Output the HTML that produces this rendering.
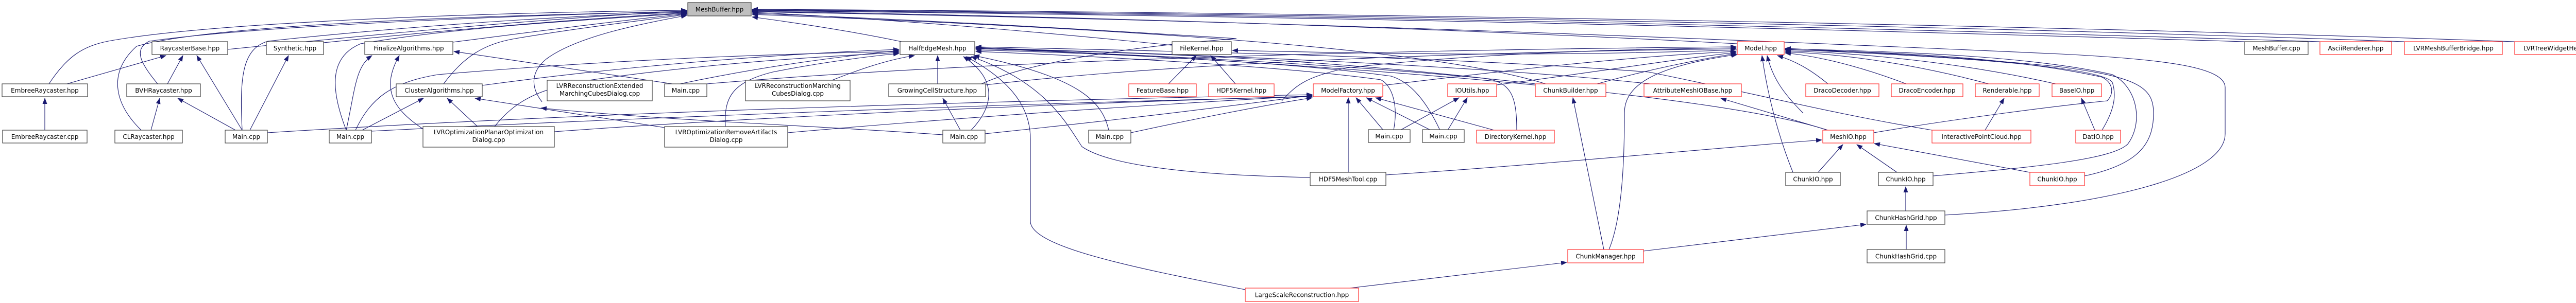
<!DOCTYPE html>
<html><head><meta charset="utf-8"><style>
html,body{margin:0;padding:0;background:#fff;}
svg{display:block;}
text{font-family:"DejaVu Sans","Liberation Sans",sans-serif;font-size:12px;fill:#000;text-anchor:middle;font-stretch:95%;}
.b{fill:#fff;stroke:#404040;stroke-width:1.2;}
.r{fill:#fff;stroke:#ff3030;stroke-width:1.2;}
.g{fill:#bfbfbf;stroke:#404040;stroke-width:1.2;}
path{fill:none;stroke:#191970;stroke-width:1.1;marker-end:url(#a);}
</style></head><body>
<svg width="5075" height="589" viewBox="0 0 5075 589" xmlns="http://www.w3.org/2000/svg">
<defs><marker id="a" markerWidth="12" markerHeight="9" refX="11" refY="4.5" orient="auto" markerUnits="userSpaceOnUse"><polygon points="0,0 12,4.5 0,9" fill="#191970"/></marker></defs>

<path d="M95,163 C130,110 160,90 210,80 C400,45 900,25 1333,20"/>
<path d="M442,96 C700,70 1000,40 1333,21"/>
<path d="M306,163 C270,120 260,95 290,80 C500,50 1000,30 1333,22"/>
<path d="M274,253 C220,200 210,140 265,90 C400,50 900,30 1333,23"/>
<path d="M470,253 C465,150 470,95 520,80 C800,50 1100,30 1333,24"/>
<path d="M628,83 C900,55 1150,35 1333,25"/>
<path d="M672,253 C640,170 640,110 700,85 C900,50 1200,35 1333,26"/>
<path d="M879,82 C1050,60 1200,40 1333,27"/>
<path d="M861,163 C900,110 940,85 1000,75 C1150,50 1250,40 1333,28"/>
<path d="M1052,198 C1030,170 1030,140 1060,115 C1120,70 1250,45 1333,30"/>
<path d="M1750,81 C1650,60 1550,45 1460,33"/>
<path d="M2275,88 C2000,60 1700,35 1460,24"/>
<path d="M3372,85 C2700,50 2000,30 1460,22"/>
<path d="M4357,81 C3500,55 2500,30 1460,21"/>
<path d="M4503,81 C3500,50 2500,28 1460,20"/>
<path d="M4667,81 C3800,50 2600,27 1460,19"/>
<path d="M4881,81 C4000,50 2700,25 1460,18"/>
<path d="M3775,418 C4100,400 4319,340 4319,260 L4319,170 C4319,130 4200,115 4000,105 C3000,60 2200,35 1460,23"/>
<path d="M1905,163 C2000,120 2200,90 2400,75 C2000,50 1700,35 1460,26"/>
<path d="M3000,163 C2800,100 2300,60 1460,28"/>

<path d="M936,166 C1200,130 1500,105 1745,96"/>
<path d="M1320,163 C1500,125 1650,108 1745,98"/>
<path d="M1615,156 C1680,130 1730,115 1775,108"/>
<path d="M690,253 C720,190 760,160 850,145 C1200,115 1500,105 1745,100"/>
<path d="M960,246 C1000,195 1050,170 1150,155 C1400,120 1600,110 1745,102"/>
<path d="M1408,246 C1405,190 1420,160 1500,140 C1600,120 1700,108 1745,104"/>
<path d="M1820,163 L1820,108"/>
<path d="M1885,253 C1935,200 1930,150 1870,110"/>
<path d="M2417,563 C2200,520 2000,480 2000,430 L2000,270 C2000,200 1950,150 1875,110"/>
<path d="M2543,345 C2300,340 2150,320 2100,285 C2070,240 2030,160 1885,110"/>
<path d="M2152,253 C2140,200 2100,150 1890,108"/>
<path d="M2705,253 C2715,200 2700,165 2680,155 C2500,130 2150,110 1894,100"/>
<path d="M2795,253 C2770,200 2740,160 2700,148 C2500,120 2150,104 1894,97"/>
<path d="M2944,253 C2944,180 2930,160 2880,152 C2500,110 2150,100 1894,95"/>
<path d="M2980,163 C2700,130 2300,110 1894,94"/>
<path d="M3203,163 C2900,130 2400,108 1894,93"/>
<path d="M3547,253 C3450,220 3100,150 1894,92"/>
<path d="M3750,253 C3550,220 3400,180 3200,140 C2800,110 2300,100 1894,91"/>

<path d="M2684,166 C2900,140 3150,110 3370,100"/>
<path d="M2905,165 C3100,140 3250,115 3370,102"/>
<path d="M3100,163 C3200,135 3300,115 3370,104"/>
<path d="M3123,485 C3150,420 3153,300 3153,220 C3153,170 3200,130 3372,106"/>
<path d="M2488,196 C2520,160 2540,150 2613,132 C2900,100 3200,95 3370,93"/>
<path d="M1913,165 C2300,120 2900,100 3370,95"/>
<path d="M1372,163 C2000,110 2900,95 3370,91"/>
<path d="M3480,335 C3450,260 3430,180 3420,108"/>
<path d="M3500,220 C3460,180 3440,150 3430,108"/>
<path d="M3548,163 C3520,140 3490,120 3450,108"/>
<path d="M3700,163 C3600,125 3520,108 3465,103"/>
<path d="M3860,163 C3700,120 3560,104 3465,101"/>
<path d="M3990,163 C3800,120 3600,102 3465,99"/>
<path d="M3637,258 C3800,230 4000,205 4090,196 C4105,180 4100,160 4080,150 C3900,110 3650,100 3465,97"/>
<path d="M4080,253 C4100,220 4110,190 4100,160 C4080,130 3800,110 3465,96"/>
<path d="M3752,342 C3950,325 4100,310 4130,280 C4160,240 4150,170 4100,145 C3950,110 3700,100 3465,95"/>
<path d="M4046,342 C4150,320 4180,280 4180,220 C4180,170 4150,150 4000,130 C3800,110 3600,100 3465,94"/>

<path d="M2195,258 C2300,235 2450,205 2547,190"/>
<path d="M721,255 C1200,230 2000,200 2547,188"/>
<path d="M1076,256 C1500,225 2100,200 2547,187"/>
<path d="M1529,258 C1900,225 2300,200 2547,186"/>
<path d="M1912,260 C2200,230 2400,205 2547,185"/>
<path d="M519,258 C1200,215 2000,195 2547,184"/>
<path d="M2617,335 L2617,190"/>
<path d="M2685,253 L2632,190"/>
<path d="M2777,253 L2652,190"/>
<path d="M2900,253 L2670,190"/>
<path d="M2718,253 L2832,190"/>
<path d="M2810,253 L2848,190"/>
<path d="M2268,163 L2322,108"/>
<path d="M2398,163 L2350,108"/>
<path d="M3372,97 C3000,110 2700,105 2392,98"/>
<path d="M3113,485 L3053,190"/>
<path d="M2620,560 C2800,538 2950,520 3041,510"/>
<path d="M3190,488 C3350,470 3500,450 3622,436"/>
<path d="M3700,485 L3700,438"/>
<path d="M3699,410 L3699,363"/>
<path d="M2690,340 C3000,320 3300,290 3536,272"/>
<path d="M3529,335 L3577,281"/>
<path d="M3682,335 L3604,281"/>
<path d="M3940,335 L3638,279"/>
<path d="M3548,253 L3340,191"/>
<path d="M3853,253 L3890,191"/>
<path d="M4066,253 L4040,191"/>
<path d="M1305,163 L881,100"/>
<path d="M820,250 C760,210 740,170 775,108"/>
<path d="M672,253 C690,170 690,130 722,108"/>
<path d="M927,246 L868,191"/>
<path d="M703,253 L822,191"/>
<path d="M1290,248 L922,191"/>
<path d="M1830,262 C1600,245 1300,235 1050,210"/>
<path d="M130,163 L322,108"/>
<path d="M325,163 L355,108"/>
<path d="M470,253 L382,108"/>
<path d="M87,253 L87,191"/>
<path d="M293,253 L310,191"/>
<path d="M457,253 L345,191"/>
<path d="M485,253 L560,108"/>
<path d="M1864,253 L1830,191"/>

<rect class="g" x="1335" y="5" width="123" height="26"/><text x="1396.5" y="22.5">MeshBuffer.hpp</text>

<rect class="b" x="295" y="81" width="147" height="25"/><text x="368.5" y="98">RaycasterBase.hpp</text>
<rect class="b" x="517" y="81" width="111" height="25"/><text x="572.5" y="98">Synthetic.hpp</text>
<rect class="b" x="708" y="81" width="171" height="25"/><text x="793.5" y="98">FinalizeAlgorithms.hpp</text>
<rect class="b" x="1747" y="81" width="145" height="25"/><text x="1819.5" y="98">HalfEdgeMesh.hpp</text>
<rect class="b" x="2275" y="81" width="115" height="25"/><text x="2332.5" y="98">FileKernel.hpp</text>
<rect class="r" x="3372" y="81" width="91" height="25"/><text x="3417.5" y="98">Model.hpp</text>
<rect class="b" x="4357" y="81" width="123" height="25"/><text x="4418.5" y="98">MeshBuffer.cpp</text>
<rect class="r" x="4503" y="81" width="139" height="25"/><text x="4572.5" y="98">AsciiRenderer.hpp</text>
<rect class="r" x="4667" y="81" width="190" height="25"/><text x="4762" y="98">LVRMeshBufferBridge.hpp</text>
<rect class="r" x="4881" y="81" width="188" height="25"/><text x="4975" y="98">LVRTreeWidgetHelper.hpp</text>

<rect class="b" x="4" y="163" width="166" height="25"/><text x="87" y="180">EmbreeRaycaster.hpp</text>
<rect class="b" x="246" y="163" width="143" height="25"/><text x="317.5" y="180">BVHRaycaster.hpp</text>
<rect class="b" x="769" y="163" width="167" height="25"/><text x="852.5" y="180">ClusterAlgorithms.hpp</text>
<rect class="b" x="1062" y="156" width="204" height="40"/><text x="1164" y="171">LVRReconstructionExtended</text><text x="1164" y="186">MarchingCubesDialog.cpp</text>
<rect class="b" x="1290" y="163" width="82" height="25"/><text x="1331" y="180">Main.cpp</text>
<rect class="b" x="1447" y="156" width="203" height="40"/><text x="1548.5" y="171">LVRReconstructionMarching</text><text x="1548.5" y="186">CubesDialog.cpp</text>
<rect class="b" x="1725" y="163" width="188" height="25"/><text x="1819" y="180">GrowingCellStructure.hpp</text>
<rect class="r" x="2191" y="163" width="131" height="25"/><text x="2256.5" y="180">FeatureBase.hpp</text>
<rect class="r" x="2346" y="163" width="127" height="25"/><text x="2409.5" y="180">HDF5Kernel.hpp</text>
<rect class="r" x="2549" y="163" width="135" height="25"/><text x="2616.5" y="180">ModelFactory.hpp</text>
<rect class="r" x="2810" y="163" width="95" height="25"/><text x="2857.5" y="180">IOUtils.hpp</text>
<rect class="r" x="2980" y="163" width="137" height="25"/><text x="3048.5" y="180">ChunkBuilder.hpp</text>
<rect class="r" x="3191" y="163" width="189" height="25"/><text x="3285.5" y="180">AttributeMeshIOBase.hpp</text>
<rect class="r" x="3505" y="163" width="142" height="25"/><text x="3576" y="180">DracoDecoder.hpp</text>
<rect class="r" x="3671" y="163" width="139" height="25"/><text x="3740.5" y="180">DracoEncoder.hpp</text>
<rect class="r" x="3834" y="163" width="124" height="25"/><text x="3896" y="180">Renderable.hpp</text>
<rect class="r" x="3983" y="163" width="96" height="25"/><text x="4031" y="180">BaseIO.hpp</text>

<rect class="b" x="5" y="253" width="164" height="25"/><text x="87" y="270">EmbreeRaycaster.cpp</text>
<rect class="b" x="223" y="253" width="131" height="25"/><text x="288.5" y="270">CLRaycaster.hpp</text>
<rect class="b" x="437" y="253" width="82" height="25"/><text x="478" y="270">Main.cpp</text>
<rect class="b" x="639" y="253" width="82" height="25"/><text x="680" y="270">Main.cpp</text>
<rect class="b" x="821" y="246" width="255" height="40"/><text x="948.5" y="261">LVROptimizationPlanarOptimization</text><text x="948.5" y="276">Dialog.cpp</text>
<rect class="b" x="1290" y="246" width="239" height="40"/><text x="1409.5" y="261">LVROptimizationRemoveArtifacts</text><text x="1409.5" y="276">Dialog.cpp</text>
<rect class="b" x="1830" y="253" width="82" height="25"/><text x="1871" y="270">Main.cpp</text>
<rect class="b" x="2113" y="253" width="82" height="25"/><text x="2154" y="270">Main.cpp</text>
<rect class="b" x="2656" y="252" width="81" height="25"/><text x="2696.5" y="269">Main.cpp</text>
<rect class="b" x="2761" y="252" width="81" height="25"/><text x="2801.5" y="269">Main.cpp</text>
<rect class="r" x="2866" y="253" width="151" height="25"/><text x="2941.5" y="270">DirectoryKernel.hpp</text>
<rect class="r" x="3538" y="253" width="99" height="25"/><text x="3587.5" y="270">MeshIO.hpp</text>
<rect class="r" x="3750" y="253" width="192" height="25"/><text x="3846" y="270">InteractivePointCloud.hpp</text>
<rect class="r" x="4029" y="253" width="87" height="25"/><text x="4072.5" y="270">DatIO.hpp</text>

<rect class="b" x="2543" y="335" width="147" height="26"/><text x="2616.5" y="352.5">HDF5MeshTool.cpp</text>
<rect class="b" x="3466" y="335" width="106" height="26"/><text x="3519" y="352.5">ChunkIO.hpp</text>
<rect class="b" x="3646" y="335" width="106" height="26"/><text x="3699" y="352.5">ChunkIO.hpp</text>
<rect class="r" x="3940" y="335" width="106" height="26"/><text x="3993" y="352.5">ChunkIO.hpp</text>

<rect class="b" x="3624" y="410" width="151" height="26"/><text x="3699.5" y="427.5">ChunkHashGrid.hpp</text>
<rect class="r" x="3043" y="485" width="147" height="26"/><text x="3116.5" y="502.5">ChunkManager.hpp</text>
<rect class="b" x="3624" y="485" width="151" height="26"/><text x="3699.5" y="502.5">ChunkHashGrid.cpp</text>
<rect class="r" x="2417" y="560" width="220" height="26"/><text x="2527" y="577.5">LargeScaleReconstruction.hpp</text>
</svg>
</body></html>
